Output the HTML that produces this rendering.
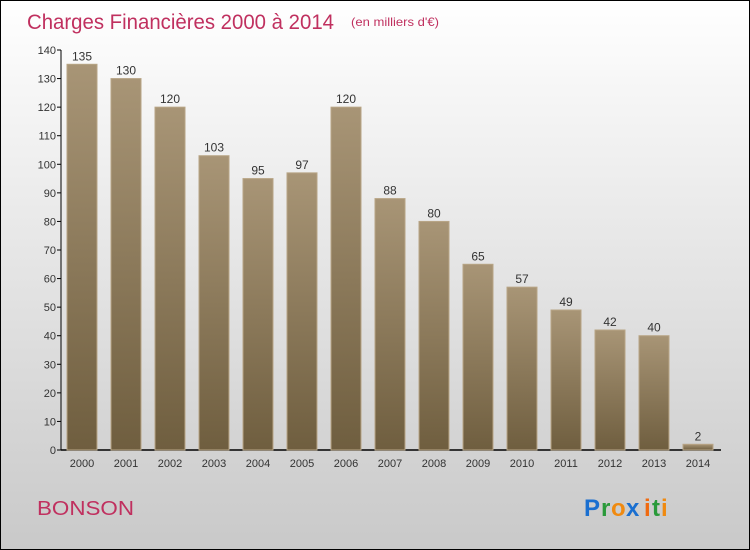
<!DOCTYPE html>
<html><head><meta charset="utf-8"><style>
body{margin:0}
#c{width:748px;height:548px;border:1px solid #000;background:linear-gradient(#fff,#f4f4f4 20%,#c9c9c9);position:relative;overflow:hidden;font-family:"Liberation Sans",sans-serif}
</style></head><body>
<div id="c">
<svg width="748" height="548" id="s">
<defs><linearGradient id="g" x1="0" y1="0" x2="0" y2="1"><stop offset="0" stop-color="#a89576"/><stop offset="1" stop-color="#6f5e3f"/></linearGradient></defs>
<text x="26" y="28" font-size="21" textLength="307" lengthAdjust="spacingAndGlyphs" fill="#c0305f">Charges Financières 2000 à 2014</text>
<text x="350" y="25" font-size="12" textLength="88" lengthAdjust="spacingAndGlyphs" fill="#c0305f">(en milliers d'€)</text>
<text x="36" y="514" font-size="20" textLength="97" lengthAdjust="spacingAndGlyphs" fill="#c0305f">BONSON</text>
<g font-size="24" font-weight="bold" font-family="Liberation Sans,sans-serif"><text x="583" y="515" fill="#1a6fd0">P</text><text x="600" y="515" fill="#2a9a3a">r</text><text x="610" y="515" fill="#f08a10">o</text><text x="625" y="515" fill="#1a6fd0">x</text><text x="643" y="515" fill="#f06a10">i</text><text x="651" y="515" fill="#2a9a3a">t</text><text x="660" y="515" fill="#f08a10">i</text></g>
<g id="ax"></g><g id="bars"></g>
</svg></div>
<script>
const years=["2000","2001","2002","2003","2004","2005","2006","2007","2008","2009","2010","2011","2012","2013","2014"];
const values=[135,130,120,103,95,97,120,88,80,65,57,49,42,40,2];
const ticks=[0,10,20,30,40,50,60,70,80,90,100,110,120,130,140];
const ns="http://www.w3.org/2000/svg";
const y0=449,yk=400/140,x0=66,step=44,bw=30;
const Y=v=>y0-v*yk, X=i=>x0+i*step;
function mk(t,a,p){const e=document.createElementNS(ns,t);for(const k in a)e.setAttribute(k,a[k]);p.appendChild(e);return e;}
const ax=document.getElementById('ax'),bars=document.getElementById('bars');
let l=mk('line',{x1:60,y1:Y(140),x2:60,y2:y0,stroke:'#000'},ax);


l=mk('line',{x1:60,y1:y0,x2:720,y2:y0,stroke:'#000','stroke-width':1.5},ax);


ticks.forEach(t=>{mk('line',{x1:56,x2:60,y1:Y(t),y2:Y(t),stroke:'#000'},ax);
const tx=mk('text',{x:55,y:Y(t)+4,'text-anchor':'end','font-size':11,fill:'#333'},ax);tx.textContent=t;

});
values.forEach((v,i)=>{const r=mk('rect',{x:X(i),y:Y(v),width:bw,height:v*yk,fill:'url(#g)',stroke:'#b8a586','stroke-width':1},bars);


const t=mk('text',{x:X(i)+bw/2,y:Y(v)-4,'text-anchor':'middle','font-size':12,fill:'#333'},bars);t.textContent=v;


const xl=mk('text',{x:X(i)+bw/2,y:466,'text-anchor':'middle','font-size':11,fill:'#333'},bars);xl.textContent=years[i];

});
</script></body></html>
